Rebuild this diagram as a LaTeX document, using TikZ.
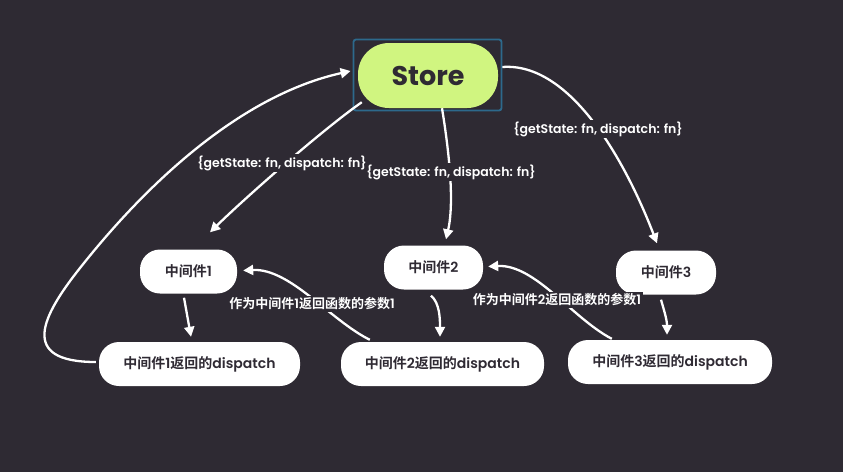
\documentclass[tikz,border=0pt]{standalone}
\usepackage{fontspec}
\setmainfont{Poppins}
\newfontfamily\zhb{Noto Sans CJK SC Bold}
\newfontfamily\popsb{Poppins SemiBold}
\newcommand\zb[1]{{\zhb #1}}
\usetikzlibrary{arrows.meta}
\definecolor{bg}{HTML}{2E2A33}
\definecolor{storegreen}{HTML}{D0F580}
\definecolor{selblue}{HTML}{2D698C}
\definecolor{ink}{HTML}{2F2A33}
\tikzset{
  mid/.style={fill=white, text=ink, rounded corners=20pt, inner sep=0pt,
    minimum height=44pt, font=\popsb\fontsize{14}{16}\selectfont},
  storebox/.style={fill=storegreen, text=ink, rounded corners=31pt, inner sep=0pt,
    minimum width=140pt, minimum height=65pt, font=\bfseries\fontsize{27}{30}\selectfont},
  selframe/.style={draw=selblue, line width=1.8pt, rounded corners=2.5pt, inner sep=0pt,
    minimum width=148pt, minimum height=71pt},
  arr/.style={draw=white, line width=2.3pt, -{Triangle[length=10pt,width=10pt]}},
  elab/.style={fill=bg, text=white, inner sep=1.5pt, font=\popsb\fontsize{12.5}{14}\selectfont},
  zlab/.style={fill=bg, text=white, inner sep=1.5pt, font=\popsb\fontsize{13}{15}\selectfont},
}
\begin{document}
\begin{tikzpicture}[x=1pt,y=-1pt]
\fill[bg] (0,0) rectangle (843,472);
\useasboundingbox (0,0) rectangle (843,472);

\node[selframe] (frame) at (427.5,75) {};
\node[storebox] (store) at (428,75.5) {Store};

\node[mid, minimum width=97pt] (m1) at (188.5,271.5) {\zb{中间件}1};
\node[mid, minimum width=99pt] (m2) at (433.5,267.5) {\zb{中间件}2};
\node[mid, minimum width=100pt] (m3) at (666,272.5) {\zb{中间件}3};
\node[mid, minimum width=201pt] (d1) at (199.5,364) {\zb{中间件}1\zb{返回的}dispatch};
\node[mid, minimum width=203pt] (d2) at (442.5,364) {\zb{中间件}2\zb{返回的}dispatch};
\node[mid, minimum width=204pt] (d3) at (670,362) {\zb{中间件}3\zb{返回的}dispatch};

% Store -> middlewares
\draw[arr] ([shift={(4,-6)}]store.south west) .. controls (322,130) and (245,198) .. ([shift={(21.5,-17)}]m1.north);
\draw[arr] ([xshift=14pt]store.south) .. controls (448,145) and (455,200) .. ([shift={(12.5,-6)}]m2.north);
\draw[arr] ([shift={(0,-8)}]frame.east) .. controls (570,62) and (625,160) .. ([shift={(-9,-7)}]m3.north);

% middleware -> dispatch
\draw[arr] ([shift={(-4.5,4)}]m1.south) -- ([shift={(-8.5,-5)}]d1.north);
\draw[arr] ([shift={(-2.5,6)}]m2.south) .. controls (440,303) and (440,320) .. ([shift={(-2.5,-5)}]d2.north);
\draw[arr] ([shift={(-5,5)}]m3.south) .. controls (664,310) and (667,320) .. ([shift={(-3,-5)}]d3.north);

% dispatch -> previous middleware
\draw[arr] ([shift={(29,-2)}]d2.north west) .. controls (330,320) and (290,268) .. ([shift={(6,-1)}]m1.east);
\draw[arr] ([shift={(44,-1)}]d3.north west) .. controls (572,318) and (535,264) .. ([shift={(5,-1)}]m2.east);

% dispatch1 -> store
\draw[arr] ([shift={(-3,-2)}]d1.west) .. controls (18,362) and (42,316) .. (80,268)
  .. controls (118,220) and (220,100) .. ([shift={(-2,-4)}]frame.west);

% labels
\node[elab] (l1) at (282,163) {\{getState: fn, dispatch: fn\}};
\node[elab] (l2) at (451,172) {\{getState: fn, dispatch: fn\}};
\node[elab] (l3) at (598,129) {\{getState: fn, dispatch: fn\}};
\node[zlab] (l4) at (312,304) {\zb{作为中间件}1\zb{返回函数的参数}1};
\node[zlab] (l5) at (557,300) {\zb{作为中间件}2\zb{返回函数的参数}1};
\end{tikzpicture}
\end{document}
